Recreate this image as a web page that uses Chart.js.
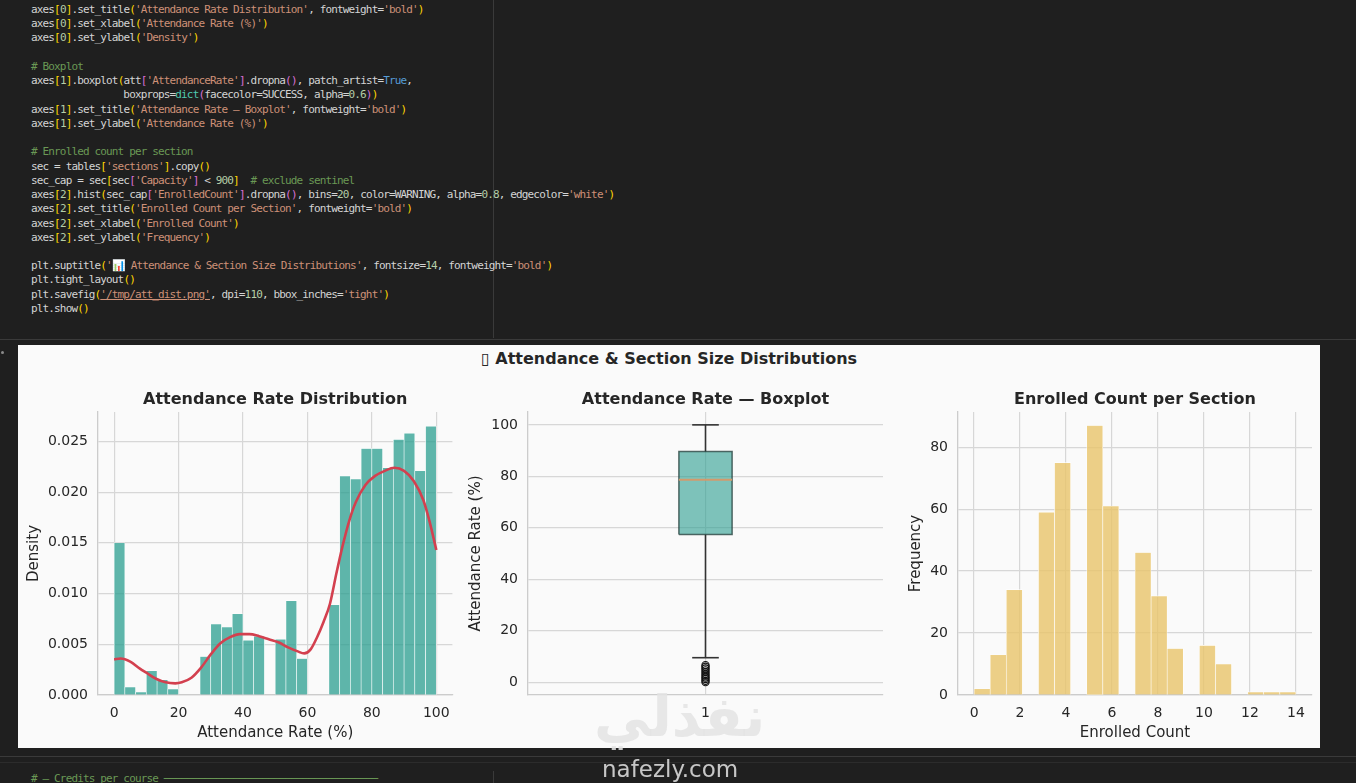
<!DOCTYPE html>
<html>
<head>
<meta charset="utf-8">
<script src="https://cdn.jsdelivr.net/npm/chart.js@4.4.1/dist/chart.umd.min.js"></script>
<style>
  html, body { margin: 0; padding: 0; }
  body { width: 1356px; height: 783px; background: #1f1f1f; position: relative; overflow: hidden; font-family: 'DejaVu Sans', sans-serif; }
  .code { position: absolute; left: 31px; font-family: 'DejaVu Sans Mono', monospace; font-size: 11px; letter-spacing: -0.85px; line-height: 14.24px; color: #d4d4d4; white-space: pre; }
  .hline { position: absolute; left: 0; width: 1356px; height: 1px; background: #3a3a3a; }
  .vline { position: absolute; left: 493px; width: 1px; background: #3a3a3a; }
  #figure { position: absolute; left: 18px; top: 345px; width: 1302px; height: 403px; background: #fafafa; }
  #suptitle { position: absolute; left: 18px; top: 349px; width: 1302px; text-align: center; font-weight: bold; font-size: 16px; line-height: 20px; color: #262626; }
  canvas { position: absolute; }
  .mark { position: absolute; color: rgba(227, 227, 227, 0.86); white-space: nowrap; }
</style>
</head>
<body>
<div class="vline" style="top:0; height:338px;"></div>
<div class="hline" style="top:339px;"></div>
<div class="code" id="code" style="top:3px;"></div>
<div style="position:absolute; left:1px; top:351px; width:3px; height:3px; background:#8a8a8a; border-radius:2px;"></div>

<div id="figure"></div>
<div id="suptitle">&#x25AF; Attendance &amp; Section Size Distributions</div>
<canvas id="chart_att" width="440" height="360" style="left:20px; top:385px; width:440px; height:360px;"></canvas>
<canvas id="chart_box" width="440" height="360" style="left:460px; top:385px; width:440px; height:360px;"></canvas>
<canvas id="chart_enr" width="430" height="360" style="left:890px; top:385px; width:430px; height:360px;"></canvas>

<div class="hline" style="top:756px;"></div>
<div class="hline" style="top:762px; background:#2c2c2c;"></div>
<div class="vline" style="top:771px; height:12px;"></div>
<div class="code" id="code_bottom" style="top:772px;"></div>

<div class="mark" dir="rtl" style="left:594px; top:682px; font-size:56px; font-weight:bold; line-height:70px;">نفذلي</div>
<div class="mark" style="left:602px; top:755px; font-size:23px; line-height:28px;">nafezly.com</div>

<script>
// ---- data ----
// Attendance rate histogram (density, 30 bins over 0..100)
var attBinMin = 0;
var attBinMax = 100;
var attDensity = [
  0.0150, 0.0008, 0.0003, 0.0024, 0.0015, 0.0006, 0, 0, 0.0038, 0.0070,
  0.0067, 0.0080, 0.0054, 0.0058, 0, 0.0055, 0.0093, 0.0036, 0, 0,
  0.0089, 0.0216, 0.0213, 0.0243, 0.0243, 0.0224, 0.0252, 0.0258, 0.0221, 0.0265
];
// KDE curve
var kdeX = [0, 2, 5, 8, 10, 13, 16, 19, 21, 24, 27, 30, 33, 36, 39, 42, 45, 48, 51, 54,
            57, 59, 61, 63, 65, 67, 69, 71, 73, 75, 78, 81, 84, 87, 90, 93, 96, 98, 100];
var kdeY = [0.0035, 0.0036, 0.0033, 0.0026, 0.0022, 0.0016, 0.00125, 0.00115, 0.00125, 0.0017,
            0.0027, 0.0040, 0.0051, 0.0057, 0.0060, 0.0060, 0.0058, 0.0055, 0.0052, 0.0047,
            0.0043, 0.0041, 0.0045, 0.0057, 0.0072, 0.0090, 0.0120, 0.0148, 0.0172, 0.0190,
            0.0207, 0.0216, 0.0221, 0.0224, 0.0221, 0.0211, 0.0192, 0.0170, 0.0143];
var attXTicks = [0, 20, 40, 60, 80, 100];
var attYTicks = [0, 0.005, 0.010, 0.015, 0.020, 0.025];

// Attendance rate boxplot stats
var boxQ1 = 57.4;
var boxMedian = 78.7;
var boxQ3 = 89.6;
var boxWhiskerLow = 9.5;
var boxWhiskerHigh = 100;
var boxOutliers = [0, 0.5, 1.2, 1.8, 2.5, 3.2, 3.9, 4.6, 5.3, 6.0, 6.6];
var boxYTicks = [0, 20, 40, 60, 80, 100];
var boxXTicks = [1];

// Enrolled count histogram (20 bins over 0..14)
var enrBinMin = 0;
var enrBinMax = 14;
var enrFreq = [2, 13, 34, 0, 59, 75, 0, 87, 61, 0, 46, 32, 15, 0, 16, 10, 0, 1, 1, 1];
var enrXTicks = [0, 2, 4, 6, 8, 10, 12, 14];
var enrYTicks = [0, 20, 40, 60, 80];

// ---- notebook code cell ----
var codeLines = [
  "axes[0].set_title('Attendance Rate Distribution', fontweight='bold')",
  "axes[0].set_xlabel('Attendance Rate (%)')",
  "axes[0].set_ylabel('Density')",
  "",
  "# Boxplot",
  "axes[1].boxplot(att['AttendanceRate'].dropna(), patch_artist=True,",
  "                boxprops=dict(facecolor=SUCCESS, alpha=0.6))",
  "axes[1].set_title('Attendance Rate \u2014 Boxplot', fontweight='bold')",
  "axes[1].set_ylabel('Attendance Rate (%)')",
  "",
  "# Enrolled count per section",
  "sec = tables['sections'].copy()",
  "sec_cap = sec[sec['Capacity'] < 900]  # exclude sentinel",
  "axes[2].hist(sec_cap['EnrolledCount'].dropna(), bins=20, color=WARNING, alpha=0.8, edgecolor='white')",
  "axes[2].set_title('Enrolled Count per Section', fontweight='bold')",
  "axes[2].set_xlabel('Enrolled Count')",
  "axes[2].set_ylabel('Frequency')",
  "",
  "plt.suptitle('\uD83D\uDCCA Attendance & Section Size Distributions', fontsize=14, fontweight='bold')",
  "plt.tight_layout()",
  "plt.savefig('/tmp/att_dist.png', dpi=110, bbox_inches='tight')",
  "plt.show()"
];
var bottomLines = [
  "# \u2014 Credits per course \u2500\u2500\u2500\u2500\u2500\u2500\u2500\u2500\u2500\u2500\u2500\u2500\u2500\u2500\u2500\u2500\u2500\u2500\u2500\u2500\u2500\u2500\u2500\u2500\u2500\u2500\u2500\u2500\u2500\u2500\u2500\u2500\u2500\u2500\u2500\u2500\u2500"
];

var BRACKETS = ['#ffd700', '#da70d6', '#179fff'];
var depth = 0;

function esc(s) {
  return s.replace(/&/g, '&amp;').replace(/</g, '&lt;').replace(/>/g, '&gt;');
}
function span(color, s, extra) {
  return '<span style="color:' + color + (extra || '') + '">' + esc(s) + '</span>';
}
function colorize(line) {
  var out = '', i = 0;
  while (i < line.length) {
    var c = line[i];
    if (c === '#') { out += span('#6a9955', line.slice(i)); break; }
    if (c === "'") {
      var j = line.indexOf("'", i + 1);
      var s = line.slice(i, j + 1);
      out += span('#ce9178', s, s.indexOf('/tmp') === 1 ? ';text-decoration:underline' : '');
      i = j + 1;
      continue;
    }
    if ('([{'.indexOf(c) >= 0) { out += span(BRACKETS[depth % 3], c); depth++; i++; continue; }
    if (')]}'.indexOf(c) >= 0) { depth--; out += span(BRACKETS[depth % 3], c); i++; continue; }
    if (/[A-Za-z_]/.test(c)) {
      var w = line.slice(i).match(/^[A-Za-z_0-9]+/)[0];
      if (w === 'True') out += span('#569cd6', w);
      else if (w === 'dict') out += span('#4ec9b0', w);
      else out += esc(w);
      i += w.length;
      continue;
    }
    if (/[0-9]/.test(c)) {
      var n = line.slice(i).match(/^[0-9.]+/)[0];
      out += span('#b5cea8', n);
      i += n.length;
      continue;
    }
    out += esc(c);
    i++;
  }
  return out;
}
document.getElementById('code').innerHTML = codeLines.map(colorize).join('\n');
document.getElementById('code_bottom').innerHTML = bottomLines.map(colorize).join('\n');

// ---- charts ----
var TEXT = '#262626';
var GRID = '#d7d7d7';
var SPINE = '#cccccc';
var TEAL = 'rgba(42, 157, 143, 0.75)';
var TEAL_BOX = 'rgba(42, 157, 143, 0.6)';
var YELLOW = 'rgba(233, 196, 106, 0.8)';
var RED = '#d3404f';
var BOX_W = 0.15;

Chart.defaults.font.family = "'DejaVu Sans', sans-serif";
Chart.defaults.color = TEXT;

function tickSetter(values) {
  return function(scale) {
    scale.ticks = values.map(function(v) { return { value: v }; });
  };
}

function xAxis(min, max, ticks, title) {
  return {
    type: 'linear',
    min: min,
    max: max,
    offset: false,
    afterBuildTicks: tickSetter(ticks),
    afterFit: function(s) { s.height = 50; },
    grid: { color: GRID, lineWidth: 1.2, drawTicks: false, offset: false },
    border: { display: true, color: SPINE, width: 1.3 },
    ticks: { padding: 10, font: { size: 14 }, color: TEXT },
    title: { display: !!title, text: title, font: { size: 15 }, color: TEXT, padding: { top: 0, bottom: 3 } }
  };
}

function yAxis(min, max, ticks, fmt, width, title, titlePad) {
  return {
    type: 'linear',
    min: min,
    max: max,
    afterBuildTicks: tickSetter(ticks),
    afterFit: function(s) { s.width = width; },
    grid: { color: GRID, lineWidth: 1.2, drawTicks: false },
    border: { display: true, color: SPINE, width: 1.3 },
    ticks: { padding: 10, font: { size: 14 }, color: TEXT, callback: fmt },
    title: { display: true, text: title, font: { size: 15 }, color: TEXT, padding: { top: titlePad, bottom: 0 } }
  };
}

function titleOpts(text) {
  return {
    display: true,
    fullSize: false,
    text: text,
    font: { size: 16, weight: 'bold' },
    color: TEXT,
    padding: { top: 5.4, bottom: 2.4 }
  };
}

// Attendance rate distribution
var attWidth = (attBinMax - attBinMin) / attDensity.length;
var attBars = attDensity.map(function(v, i) { return { x: attBinMin + (i + 0.5) * attWidth, y: v }; });
var kdePoints = kdeX.map(function(x, i) { return { x: x, y: kdeY[i] }; });

var chart_att = new Chart(document.getElementById('chart_att'), {
  type: 'scatter',
  data: {
    datasets: [
      {
        type: 'line',
        data: kdePoints,
        borderColor: RED,
        borderWidth: 2.6,
        pointRadius: 0,
        cubicInterpolationMode: 'monotone',
        order: 0
      },
      {
        type: 'bar',
        data: attBars,
        backgroundColor: TEAL,
        borderColor: '#ffffff',
        borderWidth: 0.6,
        barPercentage: 1,
        categoryPercentage: 1,
        order: 1
      }
    ]
  },
  options: {
    responsive: false,
    animation: false,
    layout: { padding: { right: 7 } },
    plugins: { legend: { display: false }, tooltip: { enabled: false }, title: titleOpts('Attendance Rate Distribution') },
    scales: {
      x: xAxis(-5, 105, attXTicks, 'Attendance Rate (%)'),
      y: yAxis(0, 0.0279, attYTicks, function(v) { return v.toFixed(3); }, 78, 'Density', 5)
    }
  }
});

// Attendance rate boxplot
var bx0 = 1 - BOX_W / 2, bx1 = 1 + BOX_W / 2;
var cx0 = 1 - BOX_W / 4, cx1 = 1 + BOX_W / 4;
function seg(points, color, width) {
  return { type: 'line', data: points, borderColor: color, borderWidth: width, pointRadius: 0, tension: 0, fill: false };
}
var WHISK = '#333333';

var chart_box = new Chart(document.getElementById('chart_box'), {
  type: 'scatter',
  data: {
    datasets: [
      {
        type: 'scatter',
        data: boxOutliers.map(function(v) { return { x: 1, y: v }; }),
        pointRadius: 3.6,
        pointBackgroundColor: 'rgba(0,0,0,0)',
        pointBorderColor: '#111111',
        pointBorderWidth: 1.1
      },
      seg([{ x: bx0, y: boxMedian }, { x: bx1, y: boxMedian }], '#d39a6c', 2),
      {
        type: 'line',
        data: [{ x: bx0, y: boxQ1 }, { x: bx1, y: boxQ1 }, { x: bx1, y: boxQ3 }, { x: bx0, y: boxQ3 }, { x: bx0, y: boxQ1 }],
        fill: 'shape',
        backgroundColor: TEAL_BOX,
        borderColor: 'rgba(35, 60, 58, 0.75)',
        borderWidth: 1.5,
        pointRadius: 0,
        tension: 0
      },
      seg([{ x: 1, y: boxQ3 }, { x: 1, y: boxWhiskerHigh }], WHISK, 1.6),
      seg([{ x: 1, y: boxQ1 }, { x: 1, y: boxWhiskerLow }], WHISK, 1.6),
      seg([{ x: cx0, y: boxWhiskerHigh }, { x: cx1, y: boxWhiskerHigh }], WHISK, 1.6),
      seg([{ x: cx0, y: boxWhiskerLow }, { x: cx1, y: boxWhiskerLow }], WHISK, 1.6)
    ]
  },
  options: {
    responsive: false,
    animation: false,
    layout: { padding: { right: 17 } },
    plugins: { legend: { display: false }, tooltip: { enabled: false }, title: titleOpts('Attendance Rate \u2014 Boxplot') },
    scales: {
      x: xAxis(0.5, 1.5, boxXTicks, ''),
      y: yAxis(-5, 105, boxYTicks, function(v) { return String(v); }, 68, 'Attendance Rate (%)', 7)
    }
  }
});

// Enrolled count per section
var enrWidth = (enrBinMax - enrBinMin) / enrFreq.length;
var enrBars = enrFreq.map(function(v, i) { return { x: enrBinMin + (i + 0.5) * enrWidth, y: v }; });

var chart_enr = new Chart(document.getElementById('chart_enr'), {
  type: 'scatter',
  data: {
    datasets: [
      {
        type: 'bar',
        data: enrBars,
        backgroundColor: YELLOW,
        borderColor: '#ffffff',
        borderWidth: 0.6,
        barPercentage: 1,
        categoryPercentage: 1
      }
    ]
  },
  options: {
    responsive: false,
    animation: false,
    layout: { padding: { right: 8 } },
    plugins: { legend: { display: false }, tooltip: { enabled: false }, title: titleOpts('Enrolled Count per Section') },
    scales: {
      x: xAxis(-0.7, 14.7, enrXTicks, 'Enrolled Count'),
      y: yAxis(0, 91.35, enrYTicks, function(v) { return String(v); }, 68, 'Frequency', 17)
    }
  }
});
</script>
</body>
</html>
